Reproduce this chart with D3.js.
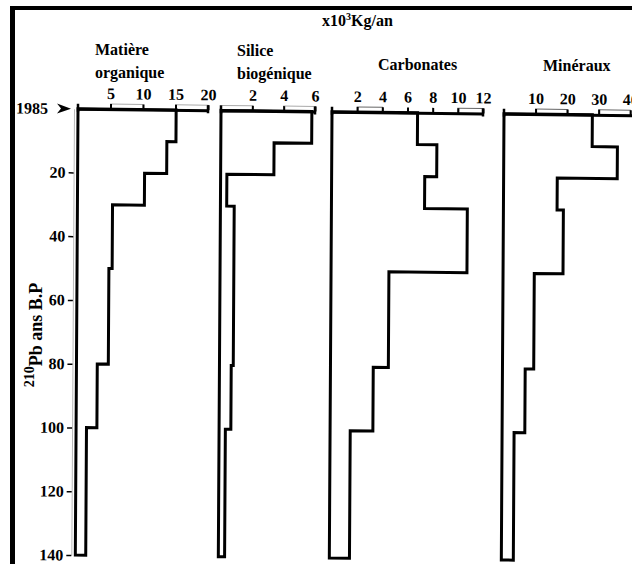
<!DOCTYPE html>
<html>
<head>
<meta charset="utf-8">
<script src="https://cdn.jsdelivr.net/npm/d3@7"></script>
<style>
  body { margin: 0; background: #fff; }
  svg { display: block; }
  text { font-family: "Liberation Serif", "Times New Roman", serif; font-weight: bold; fill: #000; }
  .tick text { font-size: 16px; }
</style>
</head>
<body>
<script>
// depth (210Pb years B.P) limits of each step, top to bottom
const depthBounds = [0, 10, 20, 30, 50, 80, 100, 140];
const depthTicks = [20, 40, 60, 80, 100, 120, 140];

// fluxes, x10^3 Kg/an, one value per depth step
const matiere    = [15.1, 13.7, 10.3, 5.4, 4.9, 3.2, 1.6];
const silice     = [5.8, 3.4, 0.4, 0.88, 0.88, 0.75, 0.4];
const carbonates = [6.8, 8.35, 7.4, 10.8, 4.6, 3.4, 1.6];
const mineraux   = [28, 36, 17, 19, 9.9, 7.2, 3.8];

const panelNames  = [["Matière", "organique"], ["Silice", "biogénique"], ["Carbonates"], ["Minéraux"]];
const panelTicks  = [[5, 10, 15, 20], [2, 4, 6], [2, 4, 6, 8, 10, 12], [10, 20, 30, 40]];
const panelMax    = [20, 6, 12, 45];
const panelValues = [matiere, silice, carbonates, mineraux];
// scale bar segments drawn as open boxes over the axis
const panelBoxes  = [[[5, 10], [15, 20]], [[0, 2], [4, 6]], [[2, 4], [10, 12]], [[10, 20], [30, 40]]];

// layout
const width = 632, height = 564;
const panelRange = [[78, 208], [221, 315], [332, 483], [504, 646]];
const titlePos = [[95, 55, 78], [237, 56, 79], [378, 70], [543, 71]];

const svg = d3.select("body").append("svg")
    .attr("width", width)
    .attr("height", height);

// frame (left and top border of the scanned figure)
svg.append("rect").attr("x", 10).attr("y", 6).attr("width", width).attr("height", 4).attr("fill", "#000");
svg.append("rect").attr("x", 10).attr("y", 6).attr("width", 5).attr("height", height).attr("fill", "#000");

// the scan is a little skewed
const k1 = 0.0117, k2 = 0.006, ox = 77, oy = 109;
const g = svg.append("g")
    .attr("transform", `matrix(1,${k1},${-k2},1,${k2 * oy},${-k1 * ox})`);

const y = d3.scaleLinear().domain([0, 140]).range([108.7, 555]);

// depth axis
const yAxis = g.append("g")
    .attr("transform", "translate(74,0)")
    .call(d3.axisLeft(y).tickValues(depthTicks).tickSize(5).tickPadding(3).tickSizeOuter(0))
    .attr("font-size", null).attr("font-family", null);
yAxis.select(".domain").attr("stroke", "#b8b8b8").attr("stroke-width", 1);
yAxis.selectAll(".tick line").attr("stroke", "#000").attr("stroke-width", 1.5);

// 1985 marker
g.append("text")
    .attr("x", 48).attr("y", y(0) + 5.5)
    .attr("text-anchor", "end")
    .style("font-size", "16px")
    .text("1985");
g.append("path")
    .attr("d", `M57,${y(0) - 5}L71,${y(0)}L57,${y(0) + 5}L61,${y(0)}Z`)
    .attr("fill", "#000");

const line = d3.line().x(d => d[0]).y(d => d[1]);

panelValues.forEach((vals, i) => {
    const x = d3.scaleLinear().domain([0, panelMax[i]]).range(panelRange[i]);

    // scale bar boxes
    g.selectAll(null)
        .data(panelBoxes[i])
        .enter()
        .append("rect")
        .attr("x", d => x(d[0]))
        .attr("y", y(0) - 5)
        .attr("width", d => x(d[1]) - x(d[0]))
        .attr("height", 5)
        .attr("fill", "#fff")
        .attr("stroke", i == 2 || i == 3 ? "#666" : "#aaa")
        .attr("stroke-width", 1);

    const ax = g.append("g")
        .attr("transform", `translate(0,${y(0)})`)
        .call(d3.axisTop(x).tickValues(panelTicks[i]).tickFormat(d3.format("d"))
            .tickSize(5).tickPadding(5).tickSizeOuter(0))
        .attr("font-size", null).attr("font-family", null);
    ax.select(".domain").attr("stroke", "#000").attr("stroke-width", 3);
    ax.selectAll(".tick line").attr("stroke", "#000").attr("stroke-width", 2);

    // end caps
    g.selectAll(null)
        .data([0, panelMax[i]])
        .enter()
        .append("line")
        .attr("x1", d => x(d)).attr("x2", d => x(d))
        .attr("y1", y(0) - 5).attr("y2", y(0) + 3)
        .attr("stroke", "#000")
        .attr("stroke-width", 2.5);

    // step profile
    const pts = [[x(0), y(0)]];
    vals.forEach((v, j) => {
        pts.push([x(v), y(depthBounds[j])], [x(v), y(depthBounds[j + 1])]);
    });
    pts.push([x(0), y(140)]);
    g.append("path")
        .attr("d", line(pts) + "Z")
        .attr("fill", "none")
        .attr("stroke", "#000")
        .attr("stroke-width", 3)
        .attr("stroke-linejoin", "miter");

    // panel title
    const t = titlePos[i];
    panelNames[i].forEach((name, k) => {
        svg.append("text")
            .attr("x", t[0]).attr("y", t[1 + k])
            .style("font-size", "16px")
            .text(name);
    });
});

// unit title
const unit = svg.append("text")
    .attr("x", 322).attr("y", 26)
    .style("font-size", "16px");
unit.append("tspan").text("x10");
unit.append("tspan").attr("dy", -6).style("font-size", "10px").text("3");
unit.append("tspan").attr("dy", 6).text("Kg/an");

// depth axis title
const yt = svg.append("text")
    .attr("transform", "translate(42,335) rotate(-90)")
    .attr("text-anchor", "middle")
    .style("font-size", "18px");
yt.append("tspan").attr("dy", -8).style("font-size", "14px").text("210");
yt.append("tspan").attr("dy", 8).text("Pb");
yt.append("tspan").text(" ans B.P");
</script>
</body>
</html>
